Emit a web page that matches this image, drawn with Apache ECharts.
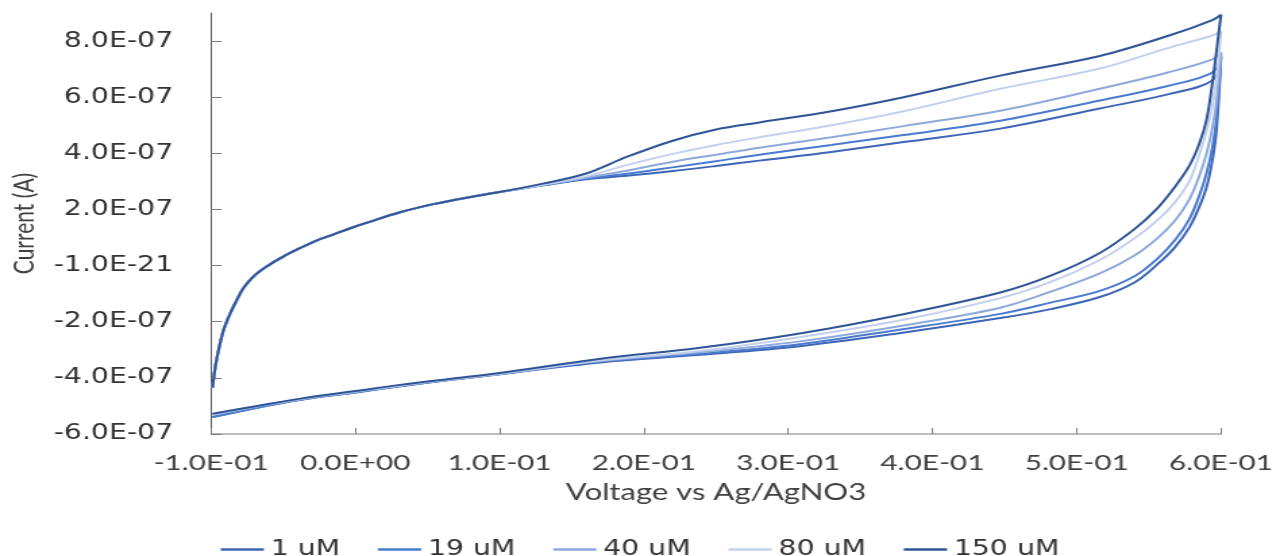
<!DOCTYPE html>
<html>
<head>
<meta charset="utf-8">
<script src="https://cdn.jsdelivr.net/npm/echarts@6/dist/echarts.min.js"></script>
<style>
  html, body { margin: 0; padding: 0; background: #fff; overflow: hidden; }
  #wrap { width: 1280px; height: 556px; overflow: hidden; }
  #chart { width: 948px; height: 556px; transform: scaleX(1.35021); transform-origin: 0 0; }
</style>
</head>
<body>
<div id="wrap"><div id="chart"></div></div>
<script>
// ---- data (current in units of 1e-7 A) ----
const seriesNames = ['1 uM', '19 uM', '40 uM', '80 uM', '150 uM'];
const seriesColors = ['#3d66b6', '#4a7bd0', '#8eaadc', '#c3d1ee', '#2f5597'];

const xTickLabels = ['-1.0E-01', '0.0E+00', '1.0E-01', '2.0E-01', '3.0E-01', '4.0E-01', '5.0E-01', '6.0E-01'];
const yTickValues = [-6, -4, -2, 0, 2, 4, 6, 8];
const yTickLabels = ['-6.0E-07', '-4.0E-07', '-2.0E-07', '-1.0E-21', '2.0E-07', '4.0E-07', '6.0E-07', '8.0E-07'];

// forward sweep voltages (V)
const upperV = [-0.099, -0.097, -0.0947, -0.0912, -0.0866, -0.082, -0.0774, -0.0705, -0.0612, -0.0497,
                -0.0381, -0.0265, -0.015, -0.0035, 0.0081, 0.031, 0.054, 0.077, 0.1, 0.13,
                0.16, 0.188, 0.22, 0.25, 0.28, 0.33, 0.38, 0.447, 0.516, 0.563, 0.594, 0.6];
// reverse sweep voltages (V)
const lowerV = [0.597, 0.594, 0.59, 0.585, 0.578, 0.568, 0.556, 0.54, 0.516, 0.482, 0.447, 0.378, 0.308,
                0.239, 0.17, 0.1, 0.065, 0.031, 0.0, -0.038, -0.07, -0.099];

const upper_1uM   = [-4.35, -3.59, -2.99, -2.28, -1.69, -1.21, -0.79, -0.38, -0.02, 0.33,
                     0.63, 0.90, 1.11, 1.33, 1.53, 1.90, 2.19, 2.42, 2.62, 2.86,
                     3.08, 3.20, 3.37, 3.55, 3.74, 4.05, 4.40, 4.88, 5.60, 6.10, 6.60, 7.45];
const upper_19uM  = [-4.35, -3.59, -2.99, -2.28, -1.69, -1.21, -0.79, -0.38, -0.02, 0.33,
                     0.63, 0.90, 1.11, 1.33, 1.53, 1.90, 2.19, 2.42, 2.62, 2.86,
                     3.10, 3.27, 3.50, 3.72, 3.95, 4.30, 4.65, 5.16, 5.88, 6.40, 6.88, 7.50];
const upper_40uM  = [-4.35, -3.59, -2.99, -2.28, -1.69, -1.21, -0.79, -0.38, -0.02, 0.33,
                     0.63, 0.90, 1.11, 1.33, 1.53, 1.90, 2.19, 2.42, 2.62, 2.87,
                     3.13, 3.38, 3.70, 3.95, 4.20, 4.57, 4.97, 5.52, 6.30, 6.88, 7.35, 7.60];
const upper_80uM  = [-4.35, -3.59, -2.99, -2.28, -1.69, -1.21, -0.79, -0.38, -0.02, 0.33,
                     0.63, 0.90, 1.11, 1.33, 1.53, 1.90, 2.19, 2.42, 2.62, 2.88,
                     3.18, 3.58, 3.98, 4.30, 4.57, 5.00, 5.50, 6.30, 7.02, 7.75, 8.20, 8.34];
const upper_150uM = [-4.35, -3.59, -2.99, -2.28, -1.69, -1.21, -0.79, -0.38, -0.02, 0.33,
                     0.63, 0.90, 1.11, 1.33, 1.53, 1.90, 2.19, 2.42, 2.62, 2.92,
                     3.28, 3.87, 4.45, 4.85, 5.10, 5.50, 6.00, 6.77, 7.47, 8.18, 8.75, 8.94];

const lower_1uM   = [4.9, 3.75, 2.8, 2.1, 1.35, 0.65, 0.05, -0.6, -1.12, -1.55, -1.87, -2.40, -2.87,
                     -3.18, -3.45, -3.87, -4.08, -4.30, -4.52, -4.78, -5.08, -5.40];
const lower_19uM  = [5.3, 4.2, 3.3, 2.5, 1.65, 0.9, 0.25, -0.38, -0.9, -1.32, -1.72, -2.28, -2.80,
                     -3.14, -3.42, -3.87, -4.08, -4.30, -4.52, -4.78, -5.08, -5.40];
const lower_40uM  = [5.9, 4.9, 4.0, 3.2, 2.35, 1.6, 0.98, 0.36, -0.28, -0.93, -1.5, -2.15, -2.70,
                     -3.09, -3.40, -3.86, -4.07, -4.28, -4.50, -4.76, -5.04, -5.32];
const lower_80uM  = [6.7, 5.7, 4.8, 3.95, 3.0, 2.25, 1.62, 0.97, 0.2, -0.58, -1.16, -1.95, -2.55,
                     -3.04, -3.37, -3.85, -4.06, -4.27, -4.49, -4.75, -5.03, -5.30];
const lower_150uM = [7.7, 6.5, 5.2, 4.35, 3.55, 2.8, 2.05, 1.3, 0.45, -0.36, -0.96, -1.75, -2.42,
                     -2.93, -3.32, -3.83, -4.04, -4.25, -4.47, -4.74, -5.02, -5.28];

const uppers = [upper_1uM, upper_19uM, upper_40uM, upper_80uM, upper_150uM];
const lowers = [lower_1uM, lower_19uM, lower_40uM, lower_80uM, lower_150uM];

function buildLoop(up, lo) {
  const pts = [];
  upperV.forEach((v, i) => pts.push([v, up[i]]));
  lowerV.forEach((v, i) => pts.push([v, lo[i]]));
  return pts;
}

const chart = echarts.init(document.getElementById('chart'), null, { renderer: 'canvas' });

const series = seriesNames.map((name, k) => ({
  name: name,
  type: 'line',
  data: buildLoop(uppers[k], lowers[k]),
  symbol: 'none',
  smooth: 0.35,
  clip: true,
  lineStyle: { width: 2, color: seriesColors[k] },
  itemStyle: { color: seriesColors[k] },
  emphasis: { disabled: true }
}));

chart.setOption({
  animation: false,
  backgroundColor: '#ffffff',
  grid: { left: 156.3, right: 43.7, top: 13, bottom: 122, containLabel: false, outerBoundsMode: 'none' },
  xAxis: {
    type: 'value',
    min: -0.1, max: 0.6, interval: 0.1,
    name: 'Voltage vs Ag/AgNO3',
    nameLocation: 'middle',
    nameGap: 47,
    nameTextStyle: { fontFamily: 'Lato', fontSize: 23, color: '#404040' },
    axisLine: { onZero: false, lineStyle: { color: '#a6a6a6', width: 1.5 } },
    axisTick: { inside: true, length: 6, lineStyle: { color: '#7f7f7f', width: 1 } },
    axisLabel: {
      fontFamily: 'Lato', fontSize: 22, color: '#404040', margin: 18,
      formatter: v => xTickLabels[Math.round((v + 0.1) / 0.1)]
    },
    splitLine: { show: false }
  },
  yAxis: {
    type: 'value',
    min: -6, max: 9, interval: 2,
    name: 'Current (A)',
    nameLocation: 'middle',
    nameRotate: 90,
    nameGap: 124,
    nameTextStyle: { fontFamily: 'Lato', fontSize: 21, color: '#404040' },
    axisLine: { show: true, onZero: false, lineStyle: { color: '#595959', width: 1 } },
    axisTick: { show: true, inside: true, length: 8, customValues: yTickValues, lineStyle: { color: '#7f7f7f', width: 1 } },
    axisLabel: {
      fontFamily: 'DejaVu Sans', fontSize: 21, color: '#333333', margin: 28,
      customValues: yTickValues,
      formatter: v => { const i = yTickValues.indexOf(Math.round(v)); return i >= 0 ? yTickLabels[i] : ''; }
    },
    splitLine: { show: false }
  },
  legend: {
    data: seriesNames,
    left: 'center',
    top: 534,
    itemWidth: 32,
    itemHeight: 2.5,
    itemGap: 28,
    icon: 'rect',
    textStyle: { fontFamily: 'DejaVu Sans', fontSize: 21, color: '#333333' },
    selectedMode: false
  },
  series: series
});
</script>
</body>
</html>
